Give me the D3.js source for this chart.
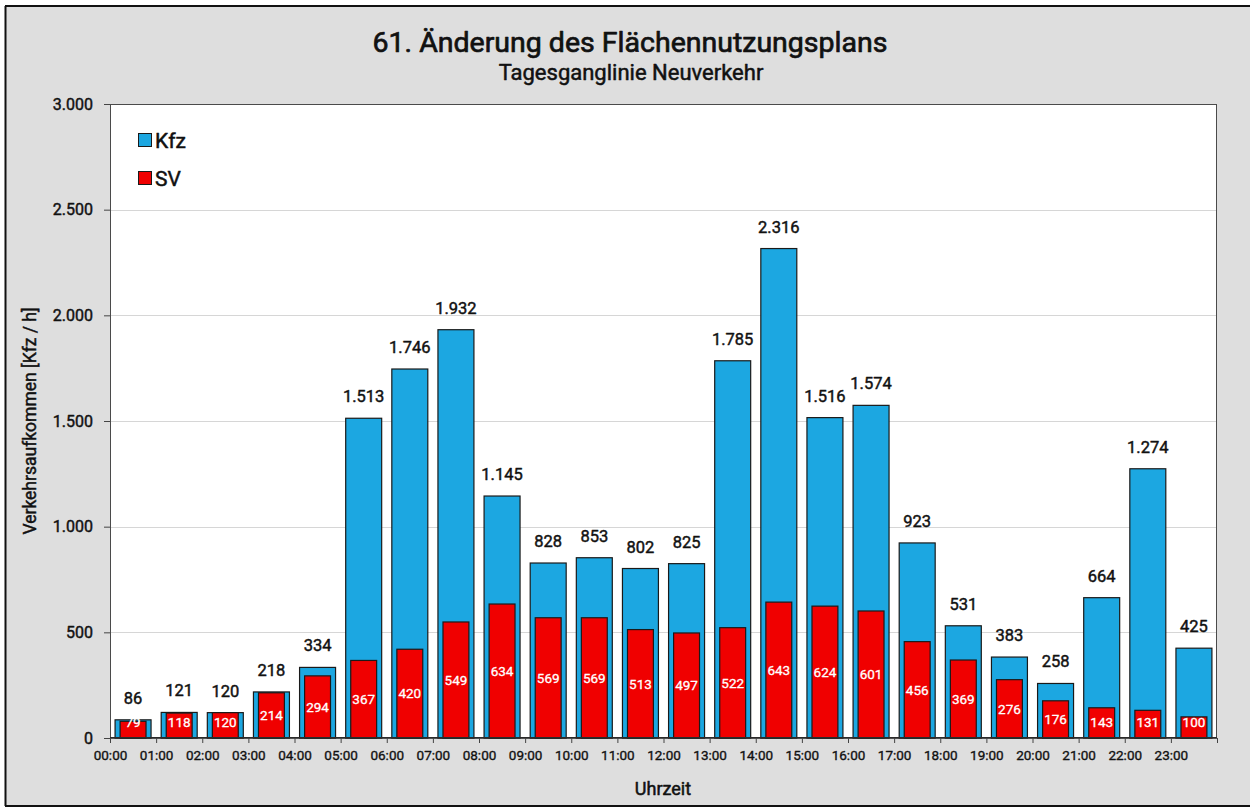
<!DOCTYPE html>
<html>
<head>
<meta charset="utf-8">
<script src="https://cdn.jsdelivr.net/npm/d3@7"></script>
<style>
  html, body { margin: 0; padding: 0; background: #ffffff; }
  svg { display: block; }
  text { font-family: Roboto, "DejaVu Sans", sans-serif; font-weight: 400; }
</style>
</head>
<body>
<svg id="chart" width="1250" height="807"></svg>
<script>
// ---- Data ----
const hours = ["00:00","01:00","02:00","03:00","04:00","05:00","06:00","07:00","08:00","09:00","10:00","11:00",
               "12:00","13:00","14:00","15:00","16:00","17:00","18:00","19:00","20:00","21:00","22:00","23:00"];
const kfz = [86,121,120,218,334,1513,1746,1932,1145,828,853,802,825,1785,2316,1516,1574,923,531,383,258,664,1274,425];
const sv  = [79,118,120,214,294,367,420,549,634,569,569,513,497,522,643,624,601,456,369,276,176,143,131,100];
const yTicks = [0,500,1000,1500,2000,2500,3000];
const seriesNames = ["Kfz","SV"];
const titleText = "61. Änderung des Flächennutzungsplans";
const subtitleText = "Tagesganglinie Neuverkehr";
const yTitle = "Verkehrsaufkommen [Kfz / h]";
const xTitle = "Uhrzeit";

// ---- Setup ----
const svg = d3.select("#chart");
const W = 1250, H = 807;
const plot = {left: 110, top: 104, right: 1217, bottom: 738};
const colors = {Kfz: "#1ca7e1", SV: "#f00000"};
const FONT = 'Roboto, "DejaVu Sans", sans-serif';

const de = d3.formatLocale({decimal: ",", thousands: ".", grouping: [3], currency: ["", " €"]});
const fmt = de.format(",d");

// heavier-than-regular text (DIN medium look)
function med(sel, color, sw) {
  return sel.attr("fill", color).attr("stroke", color).attr("stroke-width", sw == null ? 0.45 : sw)
    .attr("paint-order", "stroke").attr("stroke-linejoin", "round");
}

// background
svg.append("rect").attr("x", 5).attr("y", 6).attr("width", W).attr("height", 800)
  .attr("fill", "#dedede");
svg.append("line").attr("x1", 5.5).attr("x2", 5.5).attr("y1", 6).attr("y2", 806).attr("stroke", "#111").attr("stroke-width", 2);
svg.append("line").attr("x1", 5).attr("x2", W).attr("y1", 6).attr("y2", 6).attr("stroke", "#111").attr("stroke-width", 2);
svg.append("line").attr("x1", 5).attr("x2", W).attr("y1", 806).attr("y2", 806).attr("stroke", "#111").attr("stroke-width", 2);

// plot area
svg.append("rect").attr("x", plot.left).attr("y", plot.top)
  .attr("width", plot.right - plot.left).attr("height", plot.bottom - plot.top)
  .attr("fill", "#ffffff");

// scales
const x = d3.scaleBand().domain(hours).range([plot.left, plot.right])
  .paddingInner(0.22).paddingOuter(0.11);
const xEdge = d3.scaleLinear().domain([0, hours.length]).range([plot.left, plot.right]);
const y = d3.scaleLinear().domain([0, 3000]).range([plot.bottom, plot.top]);

// gridlines
svg.append("g").selectAll("line").data(yTicks.filter(d => d > 0 && d < 3000)).join("line")
  .attr("x1", plot.left).attr("x2", plot.right)
  .attr("y1", d => Math.round(y(d)) + 0.5).attr("y2", d => Math.round(y(d)) + 0.5)
  .attr("stroke", "#d6d6d6").attr("stroke-width", 1);

// Kfz bars
svg.append("g").selectAll("rect").data(kfz).join("rect")
  .attr("x", (d, i) => x(hours[i]))
  .attr("y", d => y(d))
  .attr("width", x.bandwidth())
  .attr("height", d => y(0) - y(d))
  .attr("fill", colors.Kfz).attr("stroke", "#1a1a1a").attr("stroke-width", 1.2);

// SV bars
const svW = x.bandwidth() * 0.72;
svg.append("g").selectAll("rect").data(sv).join("rect")
  .attr("x", (d, i) => x(hours[i]) + (x.bandwidth() - svW) / 2)
  .attr("y", d => y(d))
  .attr("width", svW)
  .attr("height", d => y(0) - y(d))
  .attr("fill", colors.SV).attr("stroke", "#1a1a1a").attr("stroke-width", 1.2);

// Kfz labels
med(svg.append("g").selectAll("text").data(kfz).join("text")
  .attr("x", (d, i) => x(hours[i]) + x.bandwidth() / 2)
  .attr("y", d => y(d) - 16)
  .attr("text-anchor", "middle")
  .attr("font-size", 16.5)
  .text(d => fmt(d)), "#111");

// SV labels
med(svg.append("g").selectAll("text").data(sv).join("text")
  .attr("x", (d, i) => x(hours[i]) + x.bandwidth() / 2)
  .attr("y", d => Math.min(y(d / 2), y(0) - 16))
  .attr("dy", "0.36em")
  .attr("text-anchor", "middle")
  .attr("font-size", 13.5)
  .text(d => fmt(d)), "#ffffff", 0.3);

// plot border
svg.append("rect").attr("x", plot.left + 0.5).attr("y", plot.top + 0.5)
  .attr("width", plot.right - plot.left - 1).attr("height", plot.bottom - plot.top - 1)
  .attr("fill", "none").attr("stroke", "#4a4a4a").attr("stroke-width", 1);
svg.append("line").attr("x1", plot.left).attr("x2", plot.right)
  .attr("y1", plot.bottom).attr("y2", plot.bottom).attr("stroke", "#222").attr("stroke-width", 1.5);

// y axis
const yAxis = svg.append("g").attr("transform", `translate(${plot.left},0)`)
  .call(d3.axisLeft(y).tickValues(yTicks).tickFormat(fmt).tickSize(6).tickPadding(11));
yAxis.select(".domain").remove();
yAxis.selectAll("line").attr("stroke", "#444");
med(yAxis.selectAll("text").attr("font-size", 16).style("font-family", FONT), "#111");

// x axis
const xAxis = svg.append("g").attr("transform", `translate(0,${plot.bottom})`)
  .call(d3.axisBottom(xEdge).tickValues(d3.range(hours.length + 1))
    .tickFormat(i => hours[i] || "").tickSize(5).tickPadding(7));
xAxis.select(".domain").remove();
xAxis.selectAll("line").attr("stroke", "#444");
med(xAxis.selectAll("text").attr("font-size", 13.5).style("font-family", FONT), "#111", 0.35);

// titles
med(svg.append("text").attr("x", 630).attr("y", 52).attr("text-anchor", "middle")
  .attr("font-size", 28.5).text(titleText), "#111", 0.7);
med(svg.append("text").attr("x", 631).attr("y", 80).attr("text-anchor", "middle")
  .attr("font-size", 22).text(subtitleText), "#111", 0.5);
med(svg.append("text").attr("x", 663).attr("y", 795).attr("text-anchor", "middle")
  .attr("font-size", 18).text(xTitle), "#111", 0.5);
med(svg.append("text").attr("transform", `translate(36,${(plot.top + plot.bottom) / 2}) rotate(-90)`)
  .attr("text-anchor", "middle").attr("font-size", 17.5).text(yTitle), "#111", 0.45);

// legend
const lg = svg.append("g").attr("transform", "translate(138,133)");
seriesNames.forEach((name, i) => {
  const g = lg.append("g").attr("transform", `translate(0,${i * 38})`);
  g.append("rect").attr("x", 0.5).attr("y", 0.5).attr("width", 13).attr("height", 13)
    .attr("fill", colors[name]).attr("stroke", "#1a1a1a").attr("stroke-width", 1);
  med(g.append("text").attr("x", 17).attr("y", 14.5).attr("font-size", 21).text(name), "#111", 0.5);
});
</script>
</body>
</html>
